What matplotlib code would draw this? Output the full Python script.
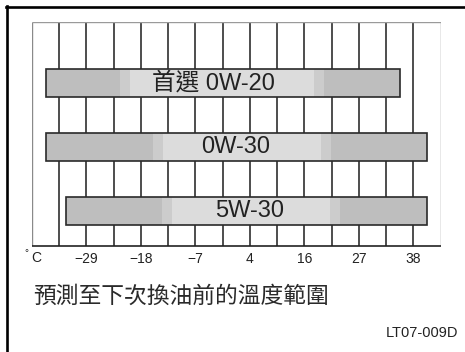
import numpy as np
import matplotlib
matplotlib.use("Agg")
from matplotlib import pyplot as plt
from matplotlib.lines import Line2D

plt.rcParams['font.family'] = ['Liberation Sans', 'Noto Sans CJK TC']

# oil grades and the temperature range (deg C) each one covers
grades = ['首選 0W-20', '0W-30', '5W-30']
temp_low = [-37.2, -37.2, -33.1]
temp_high = [35.0, 40.6, 40.6]
# lighter middle part of each bar
light_low = [-20.0, -13.3, -11.5]
light_high = [17.6, 19.0, 20.8]
label_x = [-3.0, 1.6, 4.4]

tick_labels = ['−29', '−18', '−7', '4', '16', '27', '38']
caption = '預測至下次換油前的溫度範圍'
code = 'LT07-009D'

W, H = 465, 352
fig = plt.figure(figsize=(W / 100, H / 100), dpi=100)

# grid box in pixels: x 32..440.7, y 22..246
ax = fig.add_axes([32 / W, 1 - 246 / H, (440.7 - 32) / W, (246 - 22) / H])
x0, x1 = -40, -40 + 15 * 50 / 9
ax.set_xlim(x0, x1)
ax.set_ylim(2.54, -0.96)
for s in ax.spines.values():
    s.set_visible(False)
ax.set_yticks([])

grid = np.linspace(x0, x1, 16)
ax.vlines(grid[1:-1], -0.96, 2.54, color='#1c1c1c', lw=1.1, zorder=1)
ax.vlines([grid[0], grid[-1]], -0.96, 2.54, color='#8a8a8a', lw=1.0, zorder=1)
ax.hlines(-0.96, x0, x1, color='#9a9a9a', lw=1.0, zorder=1)
ax.hlines(2.54, x0, x1, color='#222222', lw=1.2, zorder=1, clip_on=False)

ax.set_xticks(grid[2:15:2])
ax.set_xticklabels(tick_labels, fontsize=10, color='#222222')
ax.tick_params(axis='x', length=0, pad=4)

rows = np.arange(len(grades))
bh = 0.4375
low = np.array(temp_low)
high = np.array(temp_high)
llo = np.array(light_low)
lhi = np.array(light_high)
band = 2.0

ax.barh(rows, high - low, left=low, height=bh, color='#bebebe', lw=0, zorder=3)
ax.barh(rows, (lhi + band) - (llo - band), left=llo - band, height=bh,
        color='#cccccc', lw=0, zorder=4)
ax.barh(rows, lhi - llo, left=llo, height=bh, color='#dcdcdc', lw=0, zorder=5)
ax.barh(rows, high - low, left=low, height=bh, fill=False,
        edgecolor='#2a2a2a', lw=1.2, zorder=6)

for r, g, lx in zip(rows, grades, label_x):
    ax.text(lx, r, g, ha='center', va='center', fontsize=17,
            color='#222222', zorder=7)

# degree unit left of the ticks
fig.text(31 / W, 1 - 257.7 / H, 'C', fontsize=10, color='#222222', va='center')
fig.text(24 / W, 1 - 253 / H, '°', fontsize=7, color='#222222', va='center')

fig.text(33 / W, 1 - 296 / H, caption, fontsize=16.4, color='#2a2a2a', va='center')
fig.text(458.7 / W, 1 - 332.7 / H, code, fontsize=10.5, color='#222222',
         ha='right', va='center')

# outer frame, only left and top edges visible
fig.add_artist(Line2D([7 / W, 7 / W], [0, 1 - 6 / H], transform=fig.transFigure,
                      color='black', lw=1.9))
fig.add_artist(Line2D([6 / W, 1], [1 - 6.7 / H, 1 - 6.7 / H], transform=fig.transFigure,
                      color='black', lw=1.9))

fig.savefig('out.png', dpi=100)
